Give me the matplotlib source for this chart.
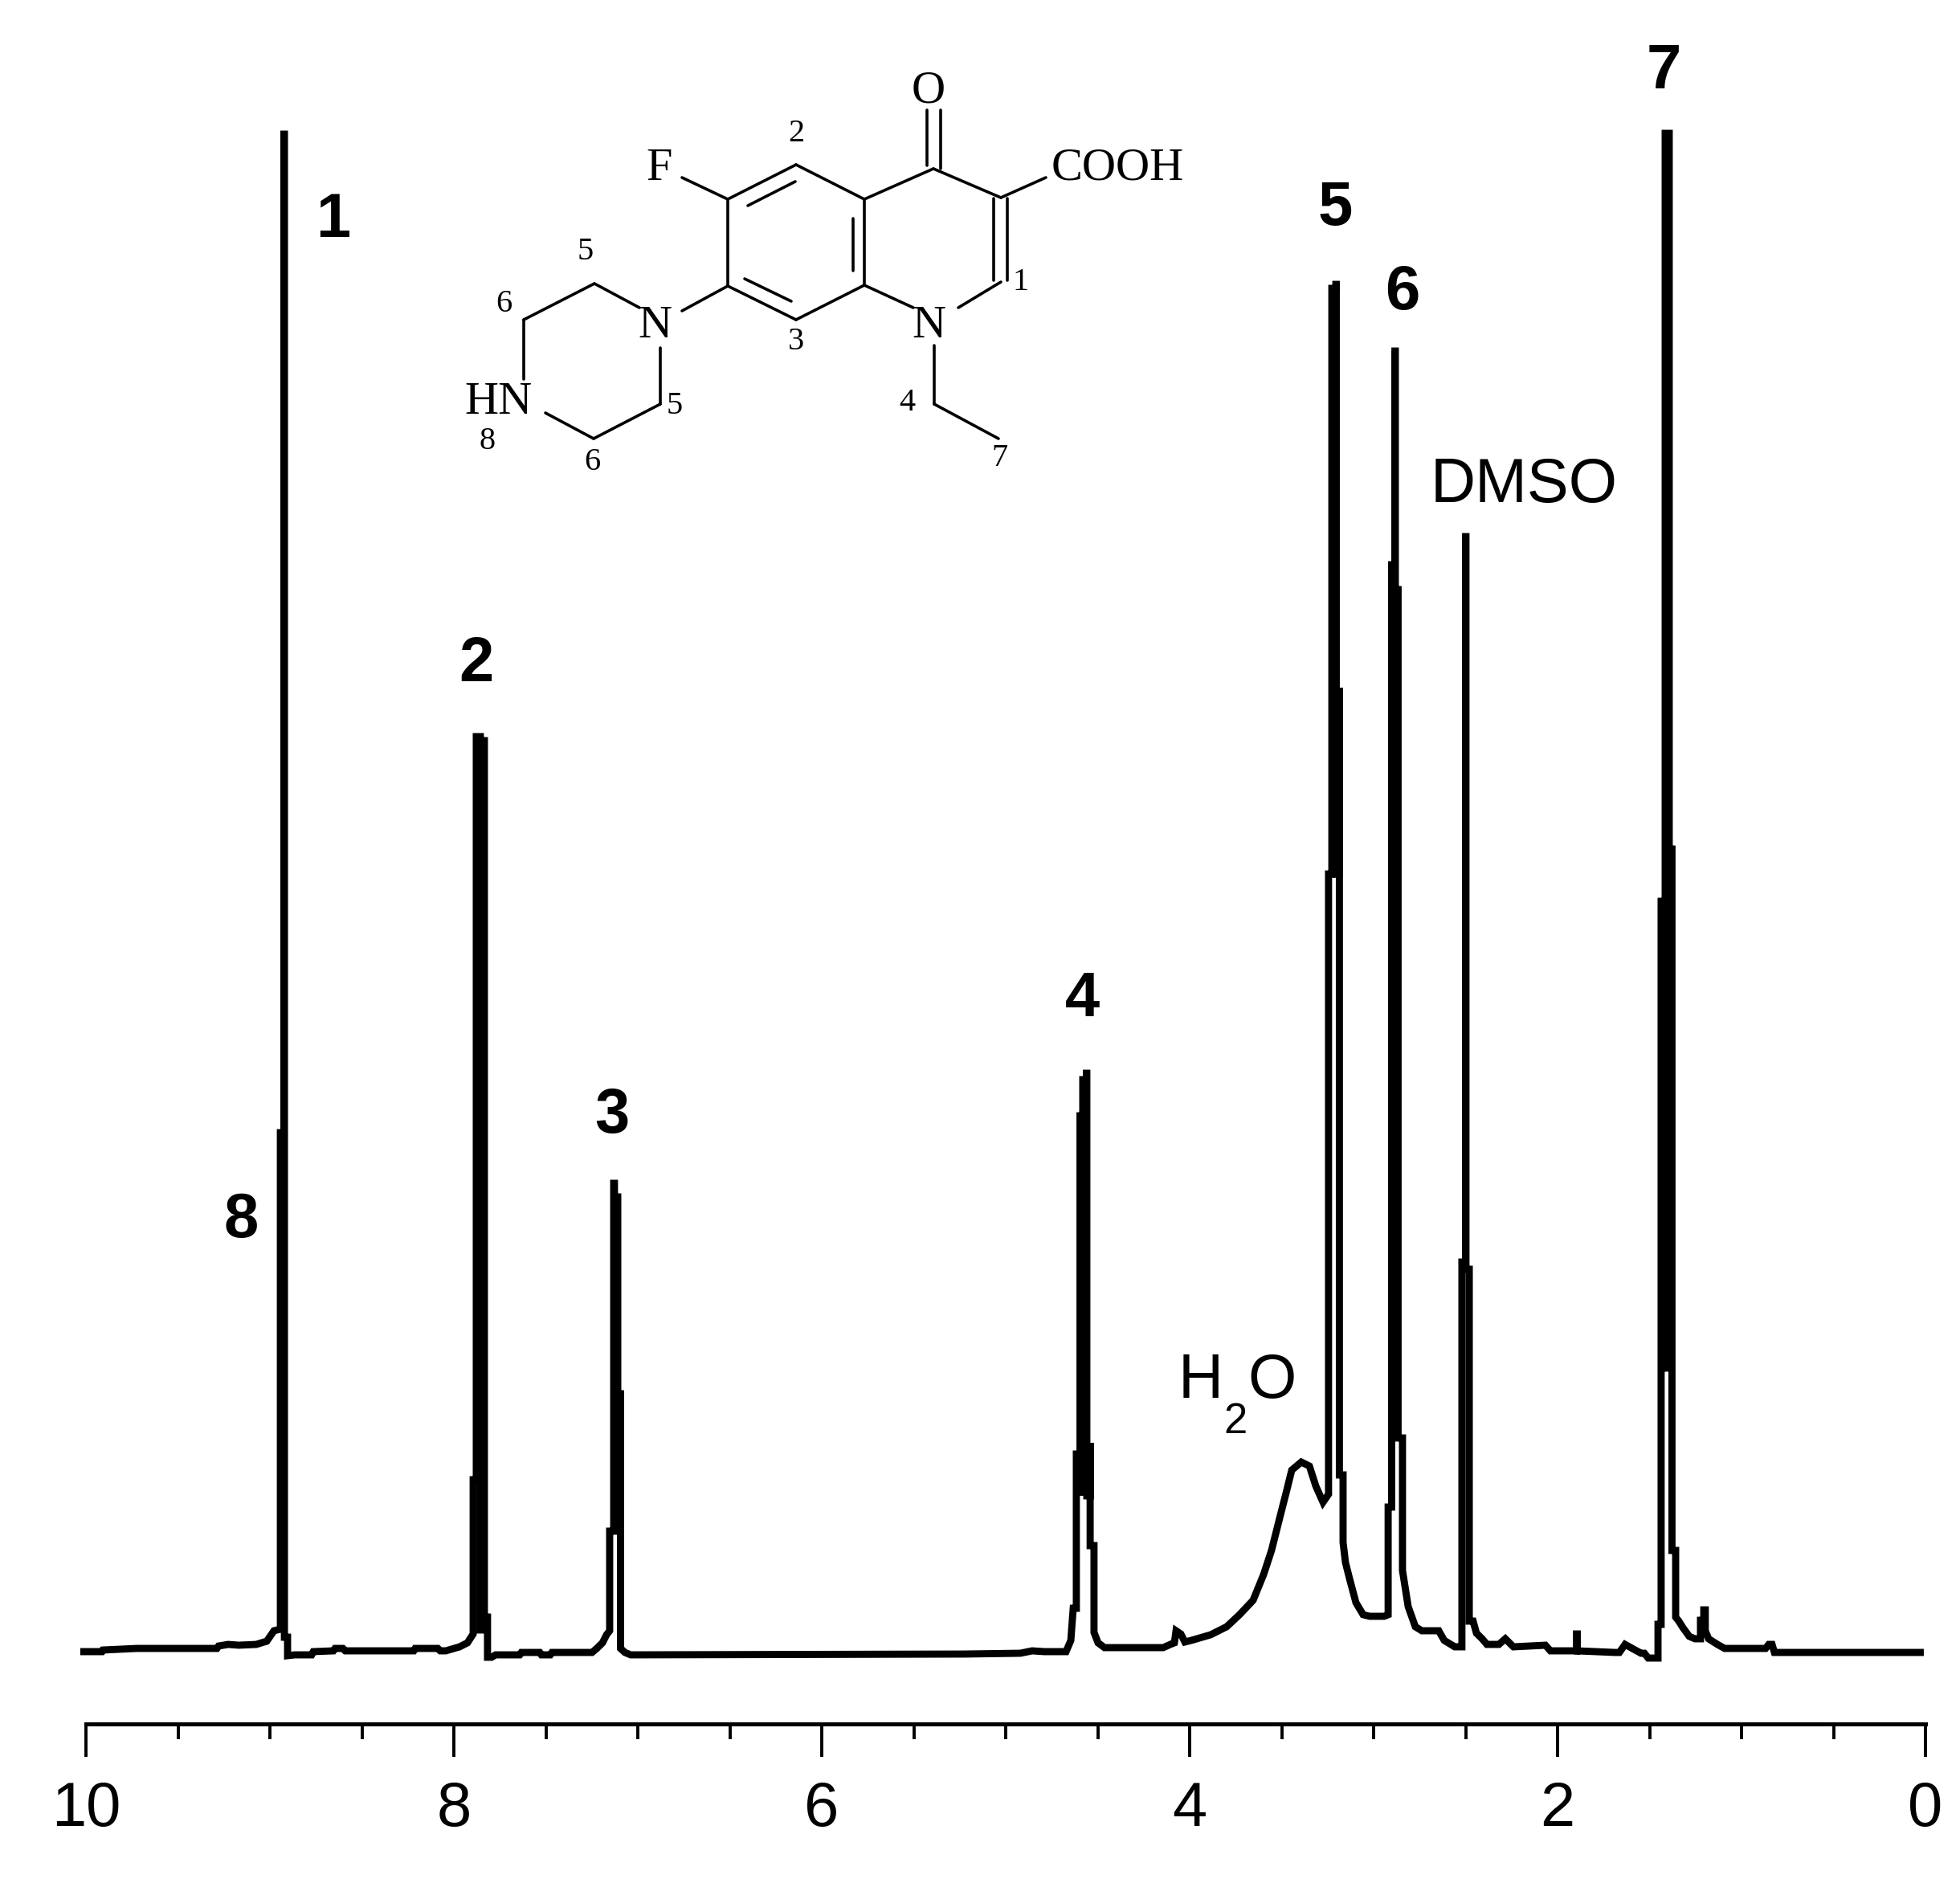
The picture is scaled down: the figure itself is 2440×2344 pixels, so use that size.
import matplotlib
matplotlib.use("Agg")
import matplotlib.pyplot as plt

plt.rcParams["path.simplify"] = False
plt.rcParams["font.family"] = ["Liberation Sans", "DejaVu Sans"]

# ---- spectrum trace, (ppm, intensity) ----
region_1 = [(10.031,0),(9.913,0),(9.908,2),(9.725,4),(9.288,4),(9.279,7),(9.227,9),(9.170,8),(9.074,9),
            (9.017,13),(8.978,26),(8.943,28),(8.943,646),(8.924,646),(8.924,1889),(8.921,1889),(8.921,18),
            (8.904,18),(8.904,-5),(8.865,-4),(8.773,-4),(8.764,0),(8.655,1),(8.646,4),(8.603,4),(8.590,1),
            (8.218,1),(8.210,4),(8.087,4),(8.074,1),(8.044,1),(7.969,6),(7.926,11)]
region_2 = [(7.895,22),(7.895,214),(7.878,214),(7.878,1139),(7.856,1139),(7.856,27),(7.838,27),(7.838,1134),
            (7.834,1134),(7.834,43),(7.817,43),(7.817,-7),(7.795,-7),(7.773,-4),(7.642,-4),(7.633,-1),
            (7.533,-1),(7.524,-4),(7.476,-4),(7.467,-1),(7.249,-1),(7.223,4),(7.192,11),(7.170,21)]
region_3 = [(7.153,26),(7.153,150),(7.131,150),(7.131,583),(7.127,583),(7.127,566),(7.109,566),(7.109,321),(7.094,321),
            (7.094,4),(7.070,-1),(7.039,-4),(5.227,-3),(4.921,-2),(4.856,1),(4.790,0),(4.672,0),(4.646,14)]
region_4 = [(4.633,54),(4.616,54),(4.616,246),(4.596,246),(4.596,194),(4.596,667),(4.581,667),(4.581,712),(4.561,712),(4.561,720),(4.559,720),
            (4.559,194),(4.541,194),(4.541,260),(4.541,132),(4.520,132),(4.520,24),(4.498,11),(4.463,5),(4.144,5),(4.105,9),(4.083,11),
            (4.074,26),(4.048,22),(4.026,12),(3.991,14)]
water = [(3.886,21),(3.799,31),(3.729,46),(3.655,64),(3.598,96),(3.555,126),(3.511,166),(3.472,201),
         (3.445,226),(3.393,236),(3.349,231),(3.314,206),(3.275,186)]
region_5 = [(3.245,196),(3.245,968),(3.227,968),(3.227,1697),(3.205,1697),(3.205,1702),(3.203,1702),(3.203,968),(3.186,968),(3.186,1200),(3.186,220),
            (3.166,220),(3.166,136),(3.153,111),(3.131,91),(3.096,61),(3.057,46),(3.022,44),(2.943,44)]
region_6 = [(2.921,46),(2.921,180),(2.902,180),(2.902,1353),(2.884,1353),(2.884,1619),(2.882,1619),(2.882,1322),(2.867,1322),
            (2.867,266),(2.843,266),(2.843,101),(2.812,56),(2.773,31),(2.738,26),(2.646,26),(2.616,14),
            (2.559,6),(2.541,6)]
dmso = [(2.520,6),(2.520,485),(2.500,485),(2.500,1388),(2.498,1388),(2.498,476),(2.480,476),(2.480,38),(2.459,38),(2.441,23),
        (2.410,16),(2.384,9),(2.319,9),(2.284,16),(2.240,6),(2.066,8),(2.039,1),(1.926,1),(1.897,1),(1.897,22),
        (1.893,22),(1.893,1),(1.690,-1),(1.664,-1),(1.633,9),(1.594,4),(1.546,-2),(1.528,-2),(1.507,-8)]
region_7 = [(1.454,-8),(1.454,34),(1.437,34),(1.437,934),(1.424,934),(1.424,353),(1.415,353),(1.415,1890),
            (1.393,1890),(1.393,999),(1.378,999),(1.378,126),(1.358,126),(1.358,43),(1.341,38),(1.319,30),(1.284,19),
            (1.253,16),(1.223,16),(1.223,39),(1.205,39),(1.205,52),(1.197,52),(1.197,26),(1.179,16),(1.131,9),
            (1.092,4),(0.869,4),(0.852,9),(0.834,9),(0.821,-1),(0.009,-1)]

trace = region_1 + region_2 + region_3 + region_4 + water + region_5 + region_6 + dmso + region_7
ppm = [p[0] for p in trace]
intensity = [p[1] for p in trace]

x_major = [10, 8, 6, 4, 2, 0]
x_minor = [9.5, 9, 8.5, 7.5, 7, 6.5, 5.5, 5, 4.5, 3.5, 3, 2.5, 1.5, 1, 0.5]

# ---- labels: text, x px, baseline px ----
peak_labels = [("1",415,295),("2",593,848),("3",762,1410),("4",1347,1265),
               ("5",1662,280),("6",1746,385),("7",2071,110),("8",300,1540)]
solvent_labels = [("DMSO",1897,625,56),("H",1495,1740,56),("2",1538,1784,38),("O",1584,1740,56)]

# ---- structure formula drawn in picture pixels ----
bonds = [
 ((849,221),(906,248)),((906,248),(991,205)),((991,205),(1076,248)),((1076,248),(1076,355)),
 ((1076,355),(991,398)),((991,398),(906,356)),((906,356),(906,248)),
 ((931,256),(990,226)),((1062,272),(1062,337)),((927,347),(985,375)),
 ((1076,248),(1162,210)),((1162,210),(1246,246)),((1154,137),(1154,206)),((1171,137),(1171,210)),
 ((1237,247),(1237,349)),((1254,247),(1254,349)),((1246,351),(1193,383)),((1076,355),(1137,383)),
 ((1246,246),(1302,221)),((906,356),(849,387)),((796,383),(740,353)),((740,353),(652,398)),
 ((652,398),(652,472)),((679,514),(739,546)),((739,546),(822,503)),((822,503),(822,433)),
 ((1163,430),(1163,503)),((1163,503),(1243,546)),
]
atoms = [("O",1156,127,42),("F",821,224,42),("COOH",1391,224,42),("N",815,420,42),
         ("N",1156,420,42),("HN",621,515,42)]
positions = [("2",991,176),("5",729,323),("6",627,388),("3",991,435),("1",1271,361),
             ("5",840,515),("4",1129,511),("8",607,559),("6",737,585),("7",1244,580)]

fig = plt.figure(figsize=(24.4, 23.44), dpi=100, facecolor="white")
ax = fig.add_axes([107/2440, (2344-2145.5)/2344, 2290/2440, 2145.5/2344])
ax.plot(ppm, intensity, color="black", lw=6.4, solid_joinstyle="miter",
        solid_capstyle="butt", clip_on=False, snap=False)
ax.set_xlim(10, 0)
ax.set_ylim(-89.5, 2056)
for s in ("top", "left", "right"):
    ax.spines[s].set_visible(False)
ax.spines["bottom"].set_linewidth(3.6)
ax.set_yticks([])
ax.set_xticks(x_major)
ax.set_xticks(x_minor, minor=True)
ax.set_xticklabels([str(v) for v in x_major])
ax.tick_params(axis="x", which="major", length=29.5, width=2.8, pad=21, labelsize=56)
ax.tick_params(axis="x", which="minor", length=14, width=2.8)

ov = fig.add_axes([0, 0, 1, 1])
ov.set_xlim(0, 2440)
ov.set_ylim(2344, 0)
ov.axis("off")
ov.patch.set_alpha(0)
for t, x, y in peak_labels:
    ov.text(x, y, t, fontsize=56, fontweight="bold", ha="center", va="baseline")
for t, x, y, fs in solvent_labels:
    ov.text(x, y, t, fontsize=fs, ha="center", va="baseline")
for (a, b) in bonds:
    ov.plot([a[0], b[0]], [a[1], b[1]], color="black", lw=2.6, solid_capstyle="round")
for t, x, y, fs in atoms:
    ov.text(x, y, t, fontsize=fs, family="Liberation Serif", ha="center", va="baseline")
for t, x, y in positions:
    ov.text(x, y, t, fontsize=29, family="Liberation Serif", ha="center", va="baseline")

fig.savefig("out.png", dpi=100)
